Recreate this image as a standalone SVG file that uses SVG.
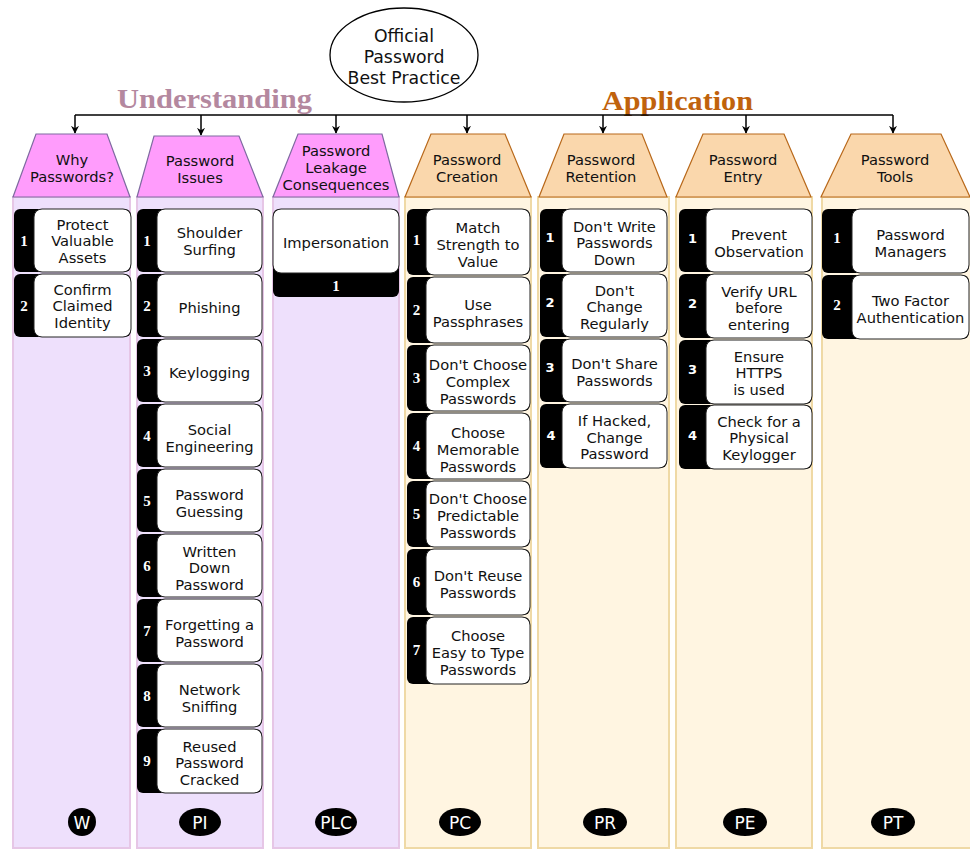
<svg xmlns="http://www.w3.org/2000/svg" width="970" height="849" viewBox="0 0 970 849">
<style>
.bg{fill:#ffffff}
.laneU{fill:#EEE0FC;stroke:#E6C6E6;stroke-width:2}
.laneA{fill:#FFF5E1;stroke:#EFD9A5;stroke-width:2}
.hU{fill:#FF9CFC;stroke:#7E6AA0;stroke-width:1.2}
.hA{fill:#FAD7AC;stroke:#B8681A;stroke-width:1.2}
.tab{fill:#000}
.card{fill:#fff;stroke:#222;stroke-width:1}
.t{font-family:"DejaVu Sans",Verdana,sans-serif;font-size:14.7px;fill:#111;text-anchor:middle;dominant-baseline:central}
.n{font-family:"Liberation Serif","Times New Roman",serif;font-weight:bold;font-size:15px;fill:#fff;text-anchor:middle;dominant-baseline:central}
.ns{font-family:"DejaVu Sans",Verdana,sans-serif;font-weight:bold;font-size:13px;fill:#fff;text-anchor:middle;dominant-baseline:central}
.lbl{fill:#000}
.lt{font-family:"DejaVu Sans",Verdana,sans-serif;font-size:17px;fill:#fff;text-anchor:middle;dominant-baseline:central}
.conn{stroke:#000;stroke-width:1.5;fill:none}
.big{font-family:"Liberation Serif","Times New Roman",serif;font-weight:bold;font-size:27px}
</style>
<defs>
<marker id="ah" viewBox="0 0 10 10" refX="9" refY="5" markerWidth="8" markerHeight="8" orient="auto" markerUnits="userSpaceOnUse">
<path d="M0,0 L10,5 L0,10 L3,5 z" fill="#000"/>
</marker>
</defs>
<rect class="bg" x="0" y="0" width="970" height="849"/>

<!-- lanes -->
<g id="lanes">
<rect class="laneU" x="13" y="197" width="117" height="651"/>
<rect class="laneU" x="137" y="197" width="126" height="651"/>
<rect class="laneU" x="273" y="197" width="126" height="651"/>
<rect class="laneA" x="405" y="197" width="126" height="651"/>
<rect class="laneA" x="538" y="197" width="131" height="651"/>
<rect class="laneA" x="676" y="197" width="136" height="651"/>
<rect class="laneA" x="822" y="197" width="152" height="651"/>
</g>

<!-- section titles -->
<text class="big" x="117" y="108" fill="#B4889F" textLength="195" lengthAdjust="spacingAndGlyphs">Understanding</text>
<text class="big" x="602" y="110" fill="#C0620C" textLength="151" lengthAdjust="spacingAndGlyphs">Application</text>

<!-- connectors -->
<g id="connectors">
<path class="conn" d="M75,115 H893"/>
<path class="conn" d="M75,115 V133" marker-end="url(#ah)"/>
<path class="conn" d="M201,115 V135" marker-end="url(#ah)"/>
<path class="conn" d="M336,115 V133" marker-end="url(#ah)"/>
<path class="conn" d="M467,115 V133" marker-end="url(#ah)"/>
<path class="conn" d="M603,115 V133" marker-end="url(#ah)"/>
<path class="conn" d="M746,115 V133" marker-end="url(#ah)"/>
<path class="conn" d="M893,115 V133" marker-end="url(#ah)"/>
</g>

<!-- root -->
<g id="root">
<ellipse cx="404" cy="55" rx="74" ry="47" fill="#fff" stroke="#000" stroke-width="1.3"/>
<text class="t" style="font-size:17.3px" x="404" y="36">Official</text>
<text class="t" style="font-size:17.3px" x="404" y="57">Password</text>
<text class="t" style="font-size:17.3px" x="404" y="78">Best Practice</text>
</g>

<!-- headers -->
<g id="h-W"><polygon class="hU" points="36,134 107,134 130,197 13,197"/>
<text class="t" x="72" y="159">Why</text><text class="t" x="72" y="176">Passwords?</text></g>
<g id="h-PI"><polygon class="hU" points="154,136 239,136 263,197 137,197"/>
<text class="t" x="200" y="160">Password</text><text class="t" x="200" y="177">Issues</text></g>
<g id="h-PLC"><polygon class="hU" points="298,134 382,134 399,197 273,197"/>
<text class="t" x="336" y="150">Password</text><text class="t" x="336" y="167">Leakage</text><text class="t" x="336" y="184">Consequences</text></g>
<g id="h-PC"><polygon class="hA" points="431,134 505,134 531,197 405,197"/>
<text class="t" x="467" y="159">Password</text><text class="t" x="467" y="176">Creation</text></g>
<g id="h-PR"><polygon class="hA" points="564,134 642,134 667,197 539,197"/>
<text class="t" x="601" y="159">Password</text><text class="t" x="601" y="176">Retention</text></g>
<g id="h-PE"><polygon class="hA" points="703,134 784,134 811,197 676,197"/>
<text class="t" x="743" y="159">Password</text><text class="t" x="743" y="176">Entry</text></g>
<g id="h-PT"><polygon class="hA" points="851,134 941,134 970,197 821,197"/>
<text class="t" x="895" y="159">Password</text><text class="t" x="895" y="176">Tools</text></g>

<!-- W items -->
<g id="W1"><rect class="tab" x="14" y="209" width="117" height="63" rx="6"/><rect class="card" x="34" y="209" width="97" height="63" rx="8"/>
<text class="n" x="24" y="240.5">1</text><text class="t" x="82.5" y="224">Protect</text><text class="t" x="82.5" y="240.5">Valuable</text><text class="t" x="82.5" y="257">Assets</text></g>
<g id="W2"><rect class="tab" x="14" y="274" width="117" height="63" rx="6"/><rect class="card" x="34" y="274" width="97" height="63" rx="8"/>
<text class="n" x="24" y="305.5">2</text><text class="t" x="82.5" y="289">Confirm</text><text class="t" x="82.5" y="305.5">Claimed</text><text class="t" x="82.5" y="322">Identity</text></g>

<!-- PI items -->
<g id="PI1"><rect class="tab" x="137" y="209" width="125" height="63" rx="6"/><rect class="card" x="157" y="209" width="105" height="63" rx="8"/>
<text class="n" x="147" y="240.5">1</text><text class="t" x="209.5" y="232">Shoulder</text><text class="t" x="209.5" y="249">Surfing</text></g>
<g id="PI2"><rect class="tab" x="137" y="274" width="125" height="63" rx="6"/><rect class="card" x="157" y="274" width="105" height="63" rx="8"/>
<text class="n" x="147" y="305.5">2</text><text class="t" x="209.5" y="307">Phishing</text></g>
<g id="PI3"><rect class="tab" x="137" y="339" width="125" height="63" rx="6"/><rect class="card" x="157" y="339" width="105" height="63" rx="8"/>
<text class="n" x="147" y="370.5">3</text><text class="t" x="209.5" y="372">Keylogging</text></g>
<g id="PI4"><rect class="tab" x="137" y="404" width="125" height="63" rx="6"/><rect class="card" x="157" y="404" width="105" height="63" rx="8"/>
<text class="n" x="147" y="435.5">4</text><text class="t" x="209.5" y="429">Social</text><text class="t" x="209.5" y="446">Engineering</text></g>
<g id="PI5"><rect class="tab" x="137" y="469" width="125" height="63" rx="6"/><rect class="card" x="157" y="469" width="105" height="63" rx="8"/>
<text class="n" x="147" y="500.5">5</text><text class="t" x="209.5" y="494">Password</text><text class="t" x="209.5" y="511">Guessing</text></g>
<g id="PI6"><rect class="tab" x="137" y="534" width="125" height="63" rx="6"/><rect class="card" x="157" y="534" width="105" height="63" rx="8"/>
<text class="n" x="147" y="565.5">6</text><text class="t" x="209.5" y="551">Written</text><text class="t" x="209.5" y="567.5">Down</text><text class="t" x="209.5" y="584">Password</text></g>
<g id="PI7"><rect class="tab" x="137" y="599" width="125" height="63" rx="6"/><rect class="card" x="157" y="599" width="105" height="63" rx="8"/>
<text class="n" x="147" y="630.5">7</text><text class="t" x="209.5" y="624">Forgetting a</text><text class="t" x="209.5" y="641">Password</text></g>
<g id="PI8"><rect class="tab" x="137" y="664" width="125" height="63" rx="6"/><rect class="card" x="157" y="664" width="105" height="63" rx="8"/>
<text class="n" x="147" y="695.5">8</text><text class="t" x="209.5" y="689">Network</text><text class="t" x="209.5" y="706">Sniffing</text></g>
<g id="PI9"><rect class="tab" x="137" y="729" width="125" height="64" rx="6"/><rect class="card" x="157" y="729" width="105" height="64" rx="8"/>
<text class="n" x="147" y="761">9</text><text class="t" x="209.5" y="746">Reused</text><text class="t" x="209.5" y="762.5">Password</text><text class="t" x="209.5" y="779">Cracked</text></g>

<!-- PLC item -->
<g id="PLC1"><rect class="tab" x="273" y="209" width="126" height="88" rx="6"/><rect class="card" x="273" y="209" width="126" height="64" rx="8"/>
<text class="t" x="336" y="242">Impersonation</text><text class="n" x="336" y="286">1</text></g>

<!-- PC items -->
<g id="PC1"><rect class="tab" x="407" y="209" width="123" height="66" rx="6"/><rect class="card" x="426" y="209" width="104" height="66" rx="8"/>
<text class="n" x="416.5" y="240">1</text><text class="t" x="478" y="227">Match</text><text class="t" x="478" y="244">Strength to</text><text class="t" x="478" y="261">Value</text></g>
<g id="PC2"><rect class="tab" x="407" y="277" width="123" height="66" rx="6"/><rect class="card" x="426" y="277" width="104" height="66" rx="8"/>
<text class="n" x="416.5" y="310">2</text><text class="t" x="478" y="304">Use</text><text class="t" x="478" y="321">Passphrases</text></g>
<g id="PC3"><rect class="tab" x="407" y="345" width="123" height="66" rx="6"/><rect class="card" x="426" y="345" width="104" height="66" rx="8"/>
<text class="n" x="416.5" y="378">3</text><text class="t" x="478" y="364">Don't Choose</text><text class="t" x="478" y="381">Complex</text><text class="t" x="478" y="398">Passwords</text></g>
<g id="PC4"><rect class="tab" x="407" y="413" width="123" height="66" rx="6"/><rect class="card" x="426" y="413" width="104" height="66" rx="8"/>
<text class="n" x="416.5" y="446">4</text><text class="t" x="478" y="432">Choose</text><text class="t" x="478" y="449">Memorable</text><text class="t" x="478" y="466">Passwords</text></g>
<g id="PC5"><rect class="tab" x="407" y="481" width="123" height="66" rx="6"/><rect class="card" x="426" y="481" width="104" height="66" rx="8"/>
<text class="n" x="416.5" y="514">5</text><text class="t" x="478" y="498">Don't Choose</text><text class="t" x="478" y="515">Predictable</text><text class="t" x="478" y="532">Passwords</text></g>
<g id="PC6"><rect class="tab" x="407" y="549" width="123" height="66" rx="6"/><rect class="card" x="426" y="549" width="104" height="66" rx="8"/>
<text class="n" x="416.5" y="582">6</text><text class="t" x="478" y="575">Don't Reuse</text><text class="t" x="478" y="592">Passwords</text></g>
<g id="PC7"><rect class="tab" x="407" y="617" width="123" height="67" rx="6"/><rect class="card" x="426" y="617" width="104" height="67" rx="8"/>
<text class="n" x="416.5" y="650">7</text><text class="t" x="478" y="635">Choose</text><text class="t" x="478" y="652">Easy to Type</text><text class="t" x="478" y="669">Passwords</text></g>

<!-- PR items -->
<g id="PR1"><rect class="tab" x="540" y="209" width="127" height="63" rx="6"/><rect class="card" x="562" y="209" width="105" height="63" rx="8"/>
<text class="ns" x="550" y="237">1</text><text class="t" x="614.5" y="226">Don't Write</text><text class="t" x="614.5" y="242.5">Passwords</text><text class="t" x="614.5" y="259">Down</text></g>
<g id="PR2"><rect class="tab" x="540" y="274" width="127" height="63" rx="6"/><rect class="card" x="562" y="274" width="105" height="63" rx="8"/>
<text class="ns" x="550" y="302">2</text><text class="t" x="614.5" y="290">Don't</text><text class="t" x="614.5" y="306.5">Change</text><text class="t" x="614.5" y="323">Regularly</text></g>
<g id="PR3"><rect class="tab" x="540" y="339" width="127" height="63" rx="6"/><rect class="card" x="562" y="339" width="105" height="63" rx="8"/>
<text class="ns" x="550" y="367">3</text><text class="t" x="614.5" y="363">Don't Share</text><text class="t" x="614.5" y="380">Passwords</text></g>
<g id="PR4"><rect class="tab" x="540" y="404" width="127" height="64" rx="6"/><rect class="card" x="562" y="404" width="105" height="64" rx="8"/>
<text class="ns" x="551" y="435">4</text><text class="t" x="614.5" y="420">If Hacked,</text><text class="t" x="614.5" y="437">Change</text><text class="t" x="614.5" y="453.5">Password</text></g>

<!-- PE items -->
<g id="PE1"><rect class="tab" x="679" y="209" width="133" height="63" rx="6"/><rect class="card" x="706" y="209" width="106" height="63" rx="8"/>
<text class="ns" x="692.5" y="238">1</text><text class="t" x="759" y="234">Prevent</text><text class="t" x="759" y="251">Observation</text></g>
<g id="PE2"><rect class="tab" x="679" y="274" width="133" height="64" rx="6"/><rect class="card" x="706" y="274" width="106" height="64" rx="8"/>
<text class="ns" x="692.5" y="303">2</text><text class="t" x="759" y="291">Verify URL</text><text class="t" x="759" y="307.5">before</text><text class="t" x="759" y="324">entering</text></g>
<g id="PE3"><rect class="tab" x="679" y="340" width="133" height="64" rx="6"/><rect class="card" x="706" y="340" width="106" height="64" rx="8"/>
<text class="ns" x="692.5" y="369">3</text><text class="t" x="759" y="356">Ensure</text><text class="t" x="759" y="372.5">HTTPS</text><text class="t" x="759" y="389">is used</text></g>
<g id="PE4"><rect class="tab" x="679" y="405" width="133" height="64" rx="6"/><rect class="card" x="706" y="405" width="106" height="64" rx="8"/>
<text class="ns" x="692.5" y="435">4</text><text class="t" x="759" y="421">Check for a</text><text class="t" x="759" y="437.5">Physical</text><text class="t" x="759" y="454">Keylogger</text></g>

<!-- PT items -->
<g id="PT1"><rect class="tab" x="822" y="209" width="147" height="64" rx="6"/><rect class="card" x="852" y="209" width="117" height="64" rx="8"/>
<text class="n" x="837" y="238">1</text><text class="t" x="910.5" y="234">Password</text><text class="t" x="910.5" y="251">Managers</text></g>
<g id="PT2"><rect class="tab" x="822" y="275" width="147" height="64" rx="6"/><rect class="card" x="852" y="275" width="117" height="64" rx="8"/>
<text class="n" x="837" y="305">2</text><text class="t" x="910.5" y="300">Two Factor</text><text class="t" x="910.5" y="317">Authentication</text></g>

<!-- bottom labels -->
<g id="L-W"><ellipse class="lbl" cx="82" cy="822" rx="14" ry="14"/><text class="lt" x="82" y="823">W</text></g>
<g id="L-PI"><ellipse class="lbl" cx="200" cy="822" rx="21" ry="14"/><text class="lt" x="200" y="823">PI</text></g>
<g id="L-PLC"><ellipse class="lbl" cx="336" cy="822" rx="21" ry="14"/><text class="lt" x="336" y="823">PLC</text></g>
<g id="L-PC"><ellipse class="lbl" cx="460" cy="822" rx="21" ry="14"/><text class="lt" x="460" y="823">PC</text></g>
<g id="L-PR"><ellipse class="lbl" cx="605" cy="822" rx="22" ry="14"/><text class="lt" x="605" y="823">PR</text></g>
<g id="L-PE"><ellipse class="lbl" cx="745" cy="822" rx="22" ry="14"/><text class="lt" x="745" y="823">PE</text></g>
<g id="L-PT"><ellipse class="lbl" cx="893" cy="822" rx="22" ry="14"/><text class="lt" x="893" y="823">PT</text></g>
</svg>
